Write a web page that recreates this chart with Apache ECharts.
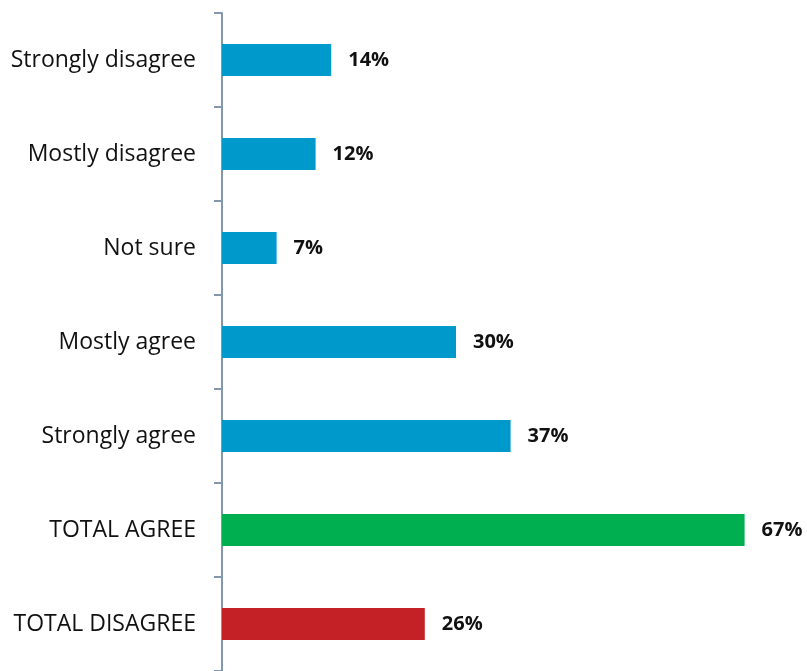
<!DOCTYPE html>
<html>
<head>
<meta charset="utf-8">
<script src="https://cdn.jsdelivr.net/npm/echarts@6/dist/echarts.min.js"></script>
<style>
  html, body { margin: 0; padding: 0; background: #ffffff; }
  #chart { width: 807px; height: 671px; }
</style>
</head>
<body>
<div id="chart"></div>
<script>
// Survey responses, top to bottom
const categories = ['Strongly disagree', 'Mostly disagree', 'Not sure', 'Mostly agree', 'Strongly agree', 'TOTAL AGREE', 'TOTAL DISAGREE'];
const values = [14, 12, 7, 30, 37, 67, 26];
const barColors = ['#0099CC', '#0099CC', '#0099CC', '#0099CC', '#0099CC', '#00B050', '#C42126'];

const chart = echarts.init(document.getElementById('chart'), null, { renderer: 'canvas' });

chart.setOption({
  animation: false,
  grid: { left: 222, right: 0, top: 13, bottom: -5, containLabel: false },
  xAxis: {
    type: 'value',
    min: 0,
    max: 75,
    show: false
  },
  yAxis: {
    type: 'category',
    data: categories,
    inverse: true,
    axisLine: { show: true, lineStyle: { color: '#8497B0', width: 2 } },
    axisTick: { show: true, length: 8, alignWithLabel: false, lineStyle: { color: '#8497B0', width: 2 } },
    axisLabel: {
      color: '#111111',
      fontFamily: 'Open Sans',
      fontSize: 23,
      margin: 26
    },
    splitLine: { show: false }
  },
  series: [{
    type: 'bar',
    barWidth: 32,
    data: values.map((v, i) => ({ value: v, itemStyle: { color: barColors[i] } })),
    label: {
      show: true,
      position: 'right',
      distance: 17,
      formatter: '{c}%',
      color: '#111111',
      fontFamily: 'Open Sans',
      fontWeight: 'bold',
      fontSize: 20
    }
  }]
});
</script>
</body>
</html>
